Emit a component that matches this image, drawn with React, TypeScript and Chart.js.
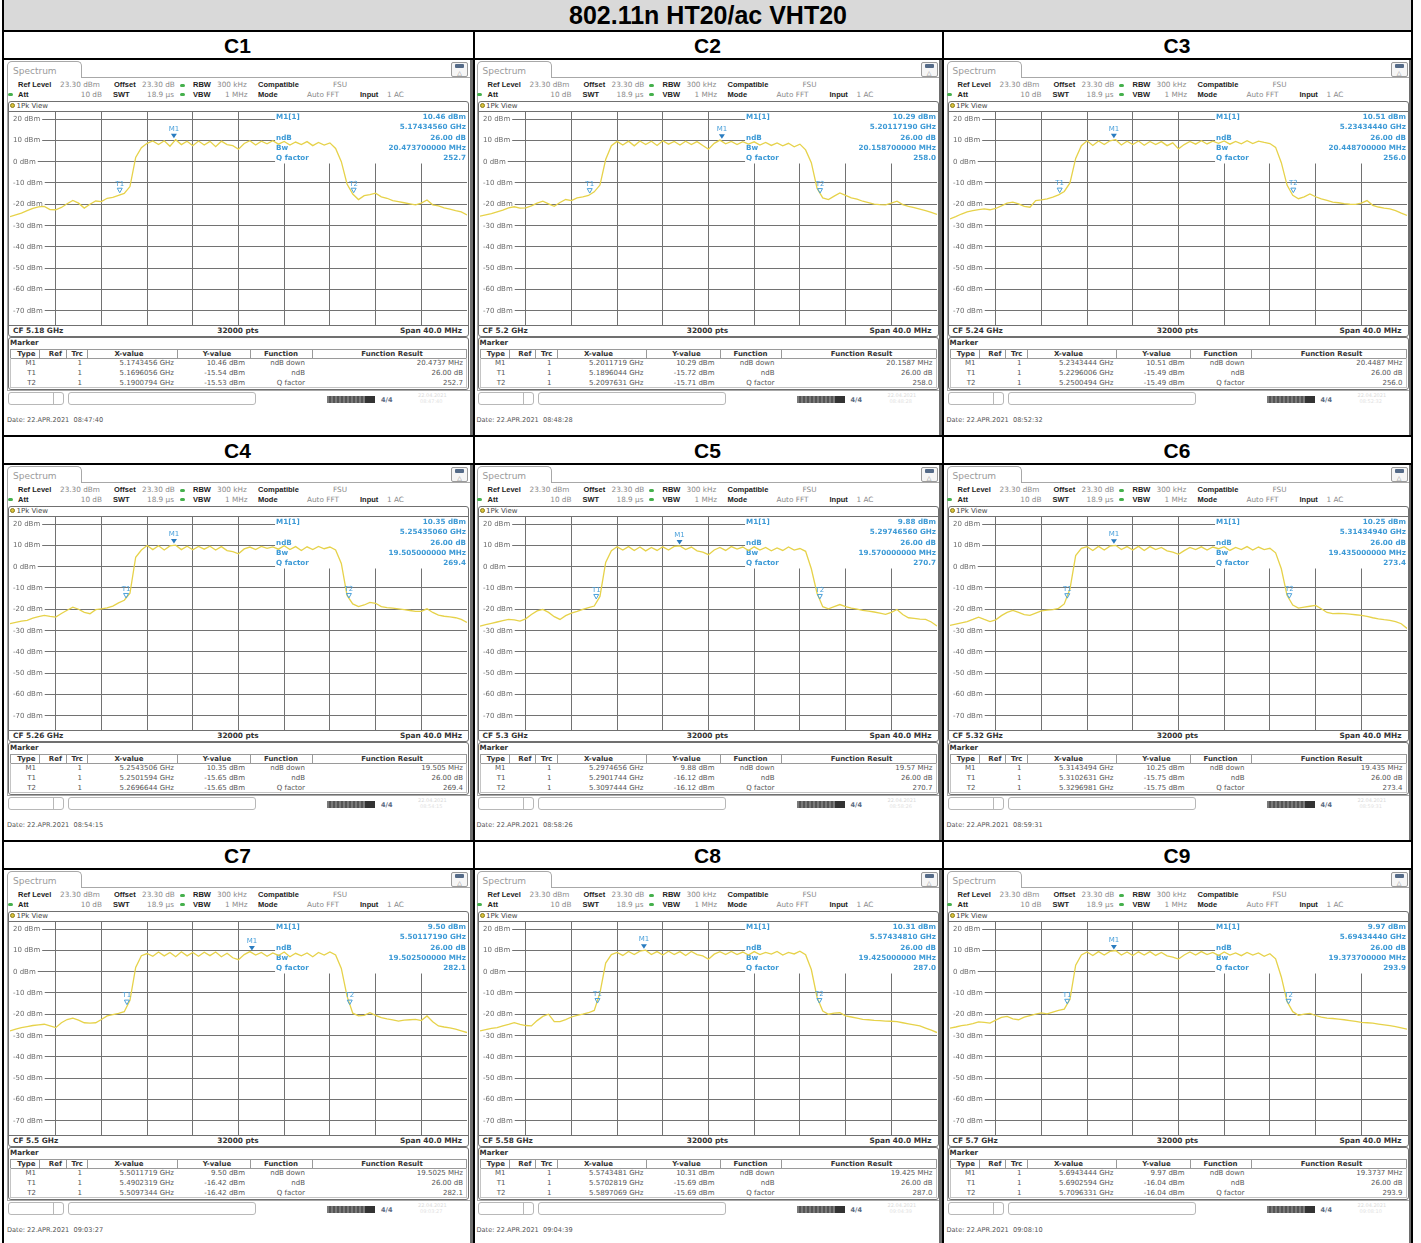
import React, { useEffect, useRef } from 'react';
import { Chart, registerables } from 'chart.js';

Chart.register(...registerables);

// ---------------- data ----------------
const PAGE_TITLE = '802.11n HT20/ac VHT20';
const CHANNEL_LABELS = ['C1', 'C2', 'C3', 'C4', 'C5', 'C6', 'C7', 'C8', 'C9'];
const centerFreqGHz = [5.18, 5.2, 5.24, 5.26, 5.3, 5.32, 5.5, 5.58, 5.7];
const captureTime = ['08:47:40', '08:48:28', '08:52:32', '08:54:15', '08:58:26', '08:59:31', '09:03:27', '09:04:39', '09:08:10'];

const m1FreqGHz = [5.1743456, 5.2011719, 5.2343444, 5.2543506, 5.2974656, 5.3143494, 5.5011719, 5.5743481, 5.6943444];
const m1LevelDbm = [10.46, 10.29, 10.51, 10.35, 9.88, 10.25, 9.5, 10.31, 9.97];
const t1FreqGHz = [5.1696056, 5.1896044, 5.2296006, 5.2501594, 5.2901744, 5.3102631, 5.4902319, 5.5702819, 5.6902594];
const t1LevelDbm = [-15.54, -15.72, -15.49, -15.65, -16.12, -15.75, -16.42, -15.69, -16.04];
const t2FreqGHz = [5.1900794, 5.2097631, 5.2500494, 5.2696644, 5.3097444, 5.3296981, 5.5097344, 5.5897069, 5.7096331];
const t2LevelDbm = [-15.53, -15.71, -15.49, -15.65, -16.12, -15.75, -16.42, -15.69, -16.04];
const bwMHz = [20.4737, 20.1587, 20.4487, 19.505, 19.57, 19.435, 19.5025, 19.425, 19.3737];
const qFactor = [252.7, 258.0, 256.0, 269.4, 270.7, 273.4, 282.1, 287.0, 293.9];
const NDB = '26.00 dB';

const X_GRID_MHZ = [-16, -12, -8, -4, 0, 4, 8, 12, 16];
const Y_GRID_DBM = [20, 10, 0, -10, -20, -30, -40, -50, -60, -70];
const X_MIN = -20;
const X_MAX = 20;
const REF_LEVEL = 23.3;
const BOTTOM_LEVEL = -76.7;
const INFO_LEFT_MHZ = 3.2;

const FREQ_OFFSETS_MHZ = [
  -20, -19.5, -19, -18.5, -18, -17.5, -17, -16.5, -16, -15.5,
  -15, -14.5, -14, -13.5, -13, -12.5, -12, -11.5, -11, -10.5,
  -10, -9.5, -9, -8.5, -8, -7.5, -7, -6.5, -6, -5.5,
  -5, -4.5, -4, -3.5, -3, -2.5, -2, -1.5, -1, -0.5,
  0, 0.5, 1, 1.5, 2, 2.5, 3, 3.5, 4, 4.5,
  5, 5.5, 6, 6.5, 7, 7.5, 8, 8.5, 9, 9.5,
  10, 10.5, 11, 11.5, 12, 12.5, 13, 13.5, 14, 14.5,
  15, 15.5, 16, 16.5, 17, 17.5, 18, 18.5, 19, 19.5,
  20,
];

const levelC1 = [
  -25.8, -25.0, -24.2, -23.0, -22.0, -21.2, -21.0, -22.5, -22.6, -21.5,
  -19.8, -18.2, -19.5, -21.8, -20.0, -18.5, -18.8, -17.2, -16.8, -15.8,
  -14.9, -11.7, 2.0, 6.5, 8.6, 9.7, 8.0, 9.8, 7.2, 10.3,
  8.0, 9.6, 7.5, 9.7, 7.8, 9.5, 7.0, 9.6, 8.0, 7.5,
  5.8, 8.5, 9.8, 7.8, 9.6, 8.4, 9.8, 8.2, 9.5, 7.8,
  9.2, 8.0, 9.4, 7.5, 9.0, 7.8, 8.8, 6.2, 0.0, -10.5,
  -15.2, -17.8, -16.0, -15.5, -14.8, -16.5, -17.2, -18.3, -18.8, -19.3,
  -19.8, -20.3, -19.5, -18.0, -20.3, -20.8, -21.7, -22.3, -23.0, -23.6,
  -25.0,
];
const levelC2 = [
  -25.6, -25.0, -24.4, -23.6, -22.8, -21.7, -21.2, -21.8, -21.7, -20.8,
  -19.5, -18.6, -19.8, -21.0, -19.2, -17.8, -18.3, -17.0, -16.6, -15.9,
  -14.2, -11.0, 1.0, 7.5, 9.5, 7.8, 9.6, 7.4, 9.7, 8.0,
  9.6, 7.6, 9.8, 8.2, 9.5, 7.8, 9.6, 8.0, 9.4, 7.6,
  5.8, 8.6, 10.1, 8.4, 9.5, 8.0, 9.4, 8.2, 9.3, 7.8,
  9.0, 7.6, 8.8, 7.4, 8.6, 7.0, 8.2, 5.5, -0.5, -12.5,
  -17.0, -17.8, -16.2, -14.7, -15.8, -17.0, -17.6, -18.6, -19.2, -20.0,
  -20.2, -20.3, -19.5, -18.6, -20.2, -21.0, -21.6, -22.3, -23.0, -23.8,
  -24.8,
];
const levelC3 = [
  -26.9, -25.8, -24.6, -23.6, -23.0, -22.5, -22.2, -22.6, -22.0, -20.8,
  -19.5, -19.0, -19.8, -21.0, -21.4, -18.3, -18.0, -17.5, -16.7, -15.6,
  -14.0, -10.0, 1.5, 7.5, 9.8, 7.6, 9.7, 8.0, 9.8, 10.3,
  7.8, 9.6, 8.0, 9.7, 7.7, 9.5, 8.0, 9.4, 7.5, 8.8,
  6.0, 8.0, 9.5, 8.2, 9.8, 8.3, 9.6, 8.6, 9.7, 8.2,
  9.5, 8.4, 9.8, 8.5, 9.6, 9.0, 8.5, 6.7, -0.5, -11.0,
  -15.8, -17.4, -16.5, -15.2, -16.5, -17.5, -18.2, -19.0, -19.3, -19.7,
  -20.0, -20.1, -19.5, -18.3, -20.5, -21.3, -21.8, -22.2, -23.0, -24.2,
  -25.3,
];
const levelC4 = [
  -26.8, -26.2, -25.6, -25.2, -24.2, -23.5, -22.9, -23.4, -23.7, -22.0,
  -20.5, -19.0, -20.0, -21.5, -22.1, -20.2, -19.8, -19.4, -18.5, -17.0,
  -15.8, -12.5, 4.4, 7.8, 9.9, 8.0, 9.8, 7.8, 9.7, 10.1,
  8.0, 9.6, 7.9, 9.5, 8.2, 9.6, 7.8, 9.4, 7.5, 7.0,
  6.0, 8.3, 9.2, 8.0, 9.5, 8.6, 9.3, 8.2, 9.8, 8.0,
  9.4, 7.6, 9.3, 8.0, 9.5, 8.4, 9.2, 7.8, 1.5, -13.5,
  -17.5, -18.8, -18.0, -16.8, -17.2, -18.8, -19.2, -19.5, -19.8, -20.2,
  -20.6, -21.0, -21.0, -19.8, -21.5, -22.8, -23.3, -23.6, -24.0, -24.8,
  -26.2,
];
const levelC5 = [
  -27.9, -27.2, -26.6, -26.0, -25.4, -24.8, -25.0, -25.6, -24.5, -22.5,
  -20.8, -20.1, -21.5, -23.5, -24.8, -23.0, -21.8, -21.0, -20.1, -19.3,
  -18.5, -14.0, 2.0, 7.5, 9.3, 7.8, 9.4, 7.6, 9.2, 7.4,
  9.0, 7.6, 9.3, 7.8, 9.5, 9.7, 8.0, 9.2, 7.4, 6.8,
  5.6, 7.8, 9.0, 7.6, 9.4, 8.2, 9.2, 7.6, 9.3, 7.8,
  9.0, 7.4, 8.8, 7.6, 9.2, 7.8, 8.5, 7.2, -1.0, -12.5,
  -18.8, -19.8, -18.8, -17.8, -18.8, -19.5, -20.0, -20.5, -20.9, -21.3,
  -21.8, -22.4, -21.5, -20.1, -22.5, -24.0, -24.3, -24.6, -24.8, -26.0,
  -27.9,
];
const levelC6 = [
  -27.6, -27.0, -26.4, -25.8, -24.8, -23.7, -24.8, -25.8, -25.0, -23.0,
  -21.5, -20.6, -21.5, -22.5, -22.9, -21.8, -20.8, -20.4, -20.2, -19.6,
  -17.5, -10.5, 5.2, 8.6, 9.4, 7.6, 9.5, 7.8, 9.6, 10.0,
  8.0, 9.4, 7.8, 9.5, 7.6, 9.4, 8.0, 9.0, 7.4, 6.8,
  5.8, 7.5, 9.0, 8.0, 9.3, 7.8, 9.2, 8.4, 9.4, 7.6,
  9.0, 8.0, 9.4, 7.8, 9.2, 8.0, 8.6, 6.5, -1.0, -13.5,
  -18.0, -19.5, -19.0, -18.6, -18.2, -19.8, -21.5, -22.1, -22.0, -22.1,
  -22.3, -22.6, -22.9, -23.4, -24.0, -24.5, -24.9, -25.2, -25.8, -26.8,
  -29.0,
];
const levelC7 = [
  -27.8, -27.0, -26.3, -25.8, -25.3, -25.0, -24.7, -25.5, -26.3, -24.0,
  -22.5, -21.8, -22.8, -24.0, -24.2, -24.0, -22.5, -20.8, -20.2, -19.6,
  -18.8, -13.5, 2.0, 7.5, 8.5, 7.2, 9.2, 7.4, 9.0, 7.0,
  9.3, 7.4, 9.0, 7.2, 9.1, 7.5, 9.2, 7.0, 8.6, 6.5,
  5.6, 8.0, 9.4, 7.8, 9.0, 7.2, 8.8, 7.6, 9.2, 7.0,
  8.6, 7.4, 8.8, 7.0, 9.0, 7.8, 9.2, 7.8, 1.5, -11.5,
  -19.5, -20.8, -20.5, -19.3, -20.5, -21.6, -22.2, -22.7, -23.2, -22.8,
  -22.6, -22.4, -23.0, -20.8, -23.5, -25.5, -26.0, -26.4, -27.0, -27.8,
  -28.6,
];
const levelC8 = [
  -27.8, -27.2, -26.6, -26.3, -25.5, -24.8, -24.0, -24.8, -25.3, -25.5,
  -23.0, -21.0, -20.0, -23.5, -23.5, -22.5, -21.3, -20.5, -20.0, -19.3,
  -18.2, -10.0, 4.0, 8.0, 9.0, 7.6, 9.5, 8.0, 9.6, 10.1,
  8.0, 9.4, 7.8, 9.6, 8.0, 9.4, 7.6, 9.5, 8.0, 7.4,
  5.8, 8.2, 9.4, 8.0, 9.5, 8.0, 9.2, 7.8, 9.4, 8.0,
  9.0, 8.2, 9.5, 7.8, 9.0, 8.3, 9.6, 7.9, 1.0, -12.0,
  -18.5, -20.0, -19.5, -19.3, -20.8, -21.3, -21.8, -22.4, -22.6, -22.9,
  -23.0, -23.2, -23.3, -23.5, -24.0, -24.5, -25.0, -25.5, -26.5, -27.5,
  -28.6,
];
const levelC9 = [
  -26.5, -26.0, -25.4, -25.0, -24.4, -23.6, -23.8, -24.2, -22.8, -21.5,
  -21.0, -22.2, -22.6, -21.4, -20.6, -20.0, -19.4, -19.8, -19.0, -18.2,
  -17.6, -13.0, 3.0, 7.8, 9.2, 7.6, 9.4, 7.8, 9.5, 9.9,
  7.8, 9.2, 7.6, 9.3, 7.8, 9.4, 7.6, 9.0, 7.4, 6.8,
  5.9, 7.8, 9.2, 7.8, 9.4, 8.0, 9.0, 7.6, 9.2, 7.8,
  8.8, 7.5, 9.0, 7.8, 8.8, 7.2, 8.4, 6.0, -2.5, -14.0,
  -18.8, -20.5, -20.0, -19.6, -20.6, -21.4, -21.8, -22.0, -22.3, -22.6,
  -23.0, -23.4, -23.8, -24.0, -24.2, -24.6, -25.0, -25.4, -25.8, -26.4,
  -27.0,
];
const TRACES = [levelC1, levelC2, levelC3, levelC4, levelC5, levelC6, levelC7, levelC8, levelC9];

// ---------------- styles ----------------
const DV = "'DejaVu Sans', Verdana, sans-serif";
const AR = "'Liberation Sans', Arial, Helvetica, sans-serif";
const TRACE_COLOR = '#e6d24a';
const GRID_COLOR = '#727272';
const INFO_BLUE = '#3d9ad6';
const MARK_BLUE = '#4aa0da';
const FRAME = '#707070';

const ROW_TOP = [30, 435, 840];
const SCREEN_X = [4, 473.5, 943.5];
const COL_CENTER = [237.5, 707.5, 1177];
const V_LINES = [2, 473, 942, 1411];

type TxtProps = {
  x: number; y: number; s: string; size?: number; bold?: boolean;
  color?: string; align?: 'l' | 'r' | 'c'; fam?: string;
};
function Txt({ x, y, s, size = 7, bold = false, color = '#333', align = 'l', fam = DV }: TxtProps) {
  const tx = align === 'l' ? '0' : align === 'r' ? '-100%' : '-50%';
  return (
    <div
      style={{
        position: 'absolute', left: x, top: y, transform: `translate(${tx}, -50%)`,
        fontFamily: fam, fontSize: size, fontWeight: bold ? 700 : 400, color,
        whiteSpace: 'pre', lineHeight: 1,
      }}
    >
      {s}
    </div>
  );
}

function Box({ l, t, w, h, style }: { l: number; t: number; w: number; h: number; style?: React.CSSProperties }) {
  return <div style={{ position: 'absolute', left: l, top: t, width: w, height: h, boxSizing: 'border-box', ...style }} />;
}

function makeOverlay(i: number) {
  return {
    id: 'specOverlay',
    beforeDatasetsDraw(chart: any) {
      const { ctx, chartArea, scales } = chart;
      const { left, right, top } = chartArea;
      const xs = scales.x;
      const ys = scales.y;
      ctx.save();
      const infoLeft = xs.getPixelForValue(INFO_LEFT_MHZ);
      const y0 = Math.round(ys.getPixelForValue(0));
      ctx.fillStyle = '#ffffff';
      ctx.fillRect(infoLeft, top, right - infoLeft, y0 + 1.5 - top);

      ctx.font = `7px ${DV}`;
      ctx.textBaseline = 'middle';
      for (const v of Y_GRID_DBM) {
        const py = Math.round(ys.getPixelForValue(v)) + 0.5;
        const label = `${v} dBm`;
        const w = ctx.measureText(label).width;
        ctx.fillStyle = '#ffffff';
        ctx.fillRect(left, py - 4, w + 5, 8);
        ctx.fillStyle = '#6a6a6a';
        ctx.textAlign = 'left';
        ctx.fillText(label, left + 3, py);
      }

      const y20 = ys.getPixelForValue(20);
      const leftCol = ['M1[1]', '', 'ndB', 'Bw', 'Q factor'];
      const rightCol = [
        `${m1LevelDbm[i].toFixed(2)} dBm`,
        `${m1FreqGHz[i].toFixed(8)} GHz`,
        NDB,
        `${bwMHz[i].toFixed(9)} MHz`,
        qFactor[i].toFixed(1),
      ];
      ctx.font = `bold 7.2px ${DV}`;
      ctx.fillStyle = INFO_BLUE;
      leftCol.forEach((s, k) => {
        const yy = y20 - 1.5 + k * 10.1;
        ctx.textAlign = 'left';
        ctx.fillText(s, infoLeft + 1, yy);
        ctx.textAlign = 'right';
        ctx.fillText(rightCol[k], right - 1, yy);
      });
      ctx.restore();
    },
    afterDatasetsDraw(chart: any) {
      const { ctx, scales } = chart;
      const xs = scales.x;
      const ys = scales.y;
      const cf = centerFreqGHz[i];
      ctx.save();
      ctx.textAlign = 'center';
      ctx.textBaseline = 'middle';
      ctx.font = `7px ${DV}`;
      const mx = xs.getPixelForValue((m1FreqGHz[i] - cf) * 1000);
      const my = ys.getPixelForValue(m1LevelDbm[i]);
      ctx.fillStyle = '#2a7cc0';
      ctx.beginPath();
      ctx.moveTo(mx - 3, my - 5.5);
      ctx.lineTo(mx + 3, my - 5.5);
      ctx.lineTo(mx, my - 1);
      ctx.closePath();
      ctx.fill();
      ctx.fillStyle = MARK_BLUE;
      ctx.fillText('M1', mx, my - 10.5);
      const temps: [string, number, number][] = [
        ['T1', t1FreqGHz[i], t1LevelDbm[i]],
        ['T2', t2FreqGHz[i], t2LevelDbm[i]],
      ];
      ctx.strokeStyle = MARK_BLUE;
      ctx.lineWidth = 1;
      for (const [lab, f, l] of temps) {
        const tx = xs.getPixelForValue((f - cf) * 1000);
        const ty = ys.getPixelForValue(l);
        ctx.beginPath();
        ctx.moveTo(tx - 2.5, ty - 6.5);
        ctx.lineTo(tx + 2.5, ty - 6.5);
        ctx.lineTo(tx, ty - 2);
        ctx.closePath();
        ctx.stroke();
        ctx.fillStyle = MARK_BLUE;
        ctx.fillText(lab, tx, ty - 11);
      }
      ctx.restore();
    },
  };
}

function SpectrumChart({ i }: { i: number }) {
  const ref = useRef<HTMLCanvasElement>(null);
  useEffect(() => {
    if (!ref.current) return;
    const levels = TRACES[i];
    const points = FREQ_OFFSETS_MHZ.map((f, k) => ({ x: f, y: levels[k] }));
    const chart = new Chart(ref.current, {
      type: 'line',
      data: {
        datasets: [
          {
            data: points,
            borderColor: TRACE_COLOR,
            borderWidth: 1.3,
            pointRadius: 0,
            tension: 0,
            fill: false,
          },
        ],
      },
      options: {
        animation: false,
        responsive: false,
        maintainAspectRatio: false,
        events: [],
        layout: { padding: 0 },
        plugins: { legend: { display: false }, tooltip: { enabled: false } },
        scales: {
          x: {
            type: 'linear',
            position: 'bottom',
            min: X_MIN,
            max: X_MAX,
            ticks: { display: false },
            grid: { color: GRID_COLOR, lineWidth: 1, drawTicks: false },
            border: { display: false },
            afterBuildTicks: (s: any) => { s.ticks = X_GRID_MHZ.map((v) => ({ value: v })); },
            afterFit: (s: any) => { s.height = 0; },
          },
          y: {
            type: 'linear',
            position: 'left',
            min: BOTTOM_LEVEL,
            max: REF_LEVEL,
            ticks: { display: false },
            grid: { color: GRID_COLOR, lineWidth: 1, drawTicks: false },
            border: { display: false },
            afterBuildTicks: (s: any) => { s.ticks = Y_GRID_DBM.map((v) => ({ value: v })); },
            afterFit: (s: any) => { s.width = 0; },
          },
        },
      } as any,
      plugins: [makeOverlay(i)],
    });
    return () => chart.destroy();
  }, [i]);
  return (
    <canvas
      ref={ref}
      width={457}
      height={213}
      style={{ position: 'absolute', left: 6, top: 52, width: 457, height: 213 }}
    />
  );
}

function Panel({ i }: { i: number }) {
  const col = i % 3;
  const row = Math.floor(i / 3);
  const sx = SCREEN_X[col];
  const cy = ROW_TOP[row] + 30;
  const cf = centerFreqGHz[i];
  const lblC = '#222';
  const valC = '#8a8a8a';
  const rows: [string, string, string, string, string][] = [
    ['M1', `${m1FreqGHz[i].toFixed(7)} GHz`, `${m1LevelDbm[i].toFixed(2)} dBm`, 'ndB down', `${bwMHz[i]} MHz`],
    ['T1', `${t1FreqGHz[i].toFixed(7)} GHz`, `${t1LevelDbm[i].toFixed(2)} dBm`, 'ndB', NDB],
    ['T2', `${t2FreqGHz[i].toFixed(7)} GHz`, `${t2LevelDbm[i].toFixed(2)} dBm`, 'Q factor', qFactor[i].toFixed(1)],
  ];
  const sep = [35, 61.7, 83.3, 172.7, 246, 307.7];
  return (
    <div style={{ position: 'absolute', left: sx, top: cy, width: 470, height: 375, background: '#fff' }}>
      <Box l={3} t={17} w={464} h={314} style={{ border: '1px solid #a8a8a8' }} />
      <Box l={3} t={1} w={75} h={17} style={{ border: '1px solid #a8a8a8', borderBottom: 'none', borderRadius: '5px 5px 0 0', background: '#fff' }} />
      <Txt x={9} y={10.5} s="Spectrum" size={9} color="#9a9a9a" />
      <Box l={447} t={2} w={17} h={15} style={{ border: '1px solid #9a9a9a', borderRadius: 2, background: '#f6f6f6' }} />
      <Box l={451} t={4} w={9} h={4} style={{ background: '#556b88', borderRadius: 1 }} />
      <Txt x={455.5} y={12.5} s="△" size={6} color="#777" align="c" />
      <Txt x={14} y={25} s="Ref Level" size={7.5} bold color={lblC} fam={AR} />
      <Txt x={56} y={25} s="23.30 dBm" size={7.3} color={valC} />
      <Txt x={110} y={25} s="Offset" size={7.5} bold color={lblC} fam={AR} />
      <Txt x={138} y={25} s="23.30 dB" size={7.3} color={valC} />
      <Box l={175.5} t={23.5} w={5} h={3} style={{ background: '#45b04c', borderRadius: 2 }} />
      <Txt x={189} y={25} s="RBW" size={7.5} bold color={lblC} fam={AR} />
      <Txt x={213} y={25} s="300 kHz" size={7.3} color={valC} />
      <Txt x={254} y={25} s="Compatible" size={7.5} bold color={lblC} fam={AR} />
      <Txt x={329} y={25} s="FSU" size={7.3} color={valC} />
      <Box l={3.5} t={33} w={5} h={3} style={{ background: '#45b04c', borderRadius: 2 }} />
      <Txt x={14} y={34.5} s="Att" size={7.5} bold color={lblC} fam={AR} />
      <Txt x={98} y={34.5} s="10 dB" size={7.3} color={valC} align="r" />
      <Txt x={109} y={34.5} s="SWT" size={7.5} bold color={lblC} fam={AR} />
      <Txt x={143} y={34.5} s="18.9 µs" size={7.3} color={valC} />
      <Box l={175.5} t={33} w={5} h={3} style={{ background: '#45b04c', borderRadius: 2 }} />
      <Txt x={189} y={34.5} s="VBW" size={7.5} bold color={lblC} fam={AR} />
      <Txt x={221} y={34.5} s="1 MHz" size={7.3} color={valC} />
      <Txt x={254} y={34.5} s="Mode" size={7.5} bold color={lblC} fam={AR} />
      <Txt x={303} y={34.5} s="Auto FFT" size={7.3} color={valC} />
      <Txt x={356} y={34.5} s="Input" size={7.5} bold color={lblC} fam={AR} />
      <Txt x={383} y={34.5} s="1 AC" size={7.3} color={valC} />
      <Box l={4} t={41} w={461} h={236} style={{ border: `1px solid ${FRAME}`, borderRadius: 3 }} />
      <Box l={6} t={43} w={5} h={5} style={{ background: '#d9c23a', border: '1px solid #8a7b1c', borderRadius: '50%' }} />
      <Txt x={12.5} y={45.5} s="1Pk View" size={7} color="#444" />
      <Box l={4} t={51} w={461} h={1} style={{ background: FRAME }} />
      <SpectrumChart i={i} />
      <Box l={4} t={265} w={461} h={1} style={{ background: FRAME }} />
      <Txt x={9} y={270.7} s={`CF ${cf} GHz`} size={7.4} bold color="#333" />
      <Txt x={234} y={270.7} s="32000 pts" size={7.4} bold color="#333" align="c" />
      <Txt x={458} y={270.7} s="Span 40.0 MHz" size={7.4} bold color="#333" align="r" />
      <Box l={4} t={277} w={461} h={53} style={{ border: `1px solid ${FRAME}`, borderRadius: 3 }} />
      <Txt x={6} y={282.7} s="Marker" size={7.2} bold color="#333" />
      <Box l={6} t={288.5} w={457} h={10} style={{ border: '1px solid #9a9a9a' }} />
      {sep.map((sx2, k) => (
        <Box key={k} l={sx2} t={288.5} w={1} h={10} style={{ background: '#9a9a9a' }} />
      ))}
      <Txt x={31.5} y={293.5} s="Type" size={7} bold color="#333" align="r" />
      <Txt x={58} y={293.5} s="Ref" size={7} bold color="#333" align="r" />
      <Txt x={79} y={293.5} s="Trc" size={7} bold color="#333" align="r" />
      <Txt x={125} y={293.5} s="X-value" size={7} bold color="#333" align="c" />
      <Txt x={213} y={293.5} s="Y-value" size={7} bold color="#333" align="c" />
      <Txt x={277} y={293.5} s="Function" size={7} bold color="#333" align="c" />
      <Txt x={388} y={293.5} s="Function Result" size={7} bold color="#333" align="c" />
      <Box l={6} t={298} w={457} h={30} style={{ border: '1px solid #c4c4c4', borderTop: 'none' }} />
      {rows.map((r, k) => {
        const yy = 303.3 + k * 10;
        return (
          <React.Fragment key={k}>
            <Txt x={32} y={yy} s={r[0]} size={7} color="#555" align="r" />
            <Txt x={78} y={yy} s="1" size={7} color="#555" align="r" />
            <Txt x={170} y={yy} s={r[1]} size={7} color="#555" align="r" />
            <Txt x={241} y={yy} s={r[2]} size={7} color="#555" align="r" />
            <Txt x={301} y={yy} s={r[3]} size={7} color="#555" align="r" />
            <Txt x={459} y={yy} s={r[4]} size={7} color="#555" align="r" />
          </React.Fragment>
        );
      })}
      <Box l={4} t={332} w={56} h={13} style={{ border: '1px solid #b8b8b8', borderRadius: 3 }} />
      <Box l={49} t={332} w={1} h={13} style={{ background: '#b8b8b8' }} />
      <Box l={64} t={332} w={188} h={13} style={{ border: '1px solid #b8b8b8', borderRadius: 3 }} />
      <Box l={323} t={336} w={48} h={7} style={{ background: 'repeating-linear-gradient(90deg, #7a7a7a 0px, #7a7a7a 2px, #555 2px, #555 4px)' }} />
      <Box l={361} t={336} w={10} h={7} style={{ background: '#333' }} />
      <Txt x={377} y={339.5} s="4/4" size={6.5} bold color="#5a6a82" />
      <Txt x={414} y={335} s="22.04.2021" size={5} color="#dadada" />
      <Txt x={416} y={341} s={captureTime[i]} size={5} color="#e2e2e2" />
      <Txt x={3} y={360} s={`Date: 22.APR.2021  ${captureTime[i]}`} size={6.6} color="#555" />
      <Box l={465.5} t={0} w={3.5} h={375} style={{ background: '#6e6e6e' }} />
    </div>
  );
}

export default function App() {
  return (
    <div style={{ position: 'absolute', left: 0, top: 0, width: 1421, height: 1243, overflow: 'hidden', background: '#fff' }}>
      <Box l={2} t={0} w={1411} h={30} style={{ background: '#d9d9d9' }} />
      <Txt x={708} y={14.5} s={PAGE_TITLE} size={25} bold color="#000" align="c" fam={AR} />
      {CHANNEL_LABELS.map((c, i) => (
        <Panel key={c} i={i} />
      ))}
      {CHANNEL_LABELS.map((c, i) => (
        <Txt key={'h' + c} x={COL_CENTER[i % 3]} y={ROW_TOP[Math.floor(i / 3)] + 14.5} s={c} size={21} bold color="#000" align="c" fam={AR} />
      ))}
      {ROW_TOP.map((t, r) => (
        <React.Fragment key={'r' + r}>
          <Box l={2} t={t} w={1411} h={2} style={{ background: '#000' }} />
          <Box l={2} t={t + 28} w={1411} h={2} style={{ background: '#000' }} />
        </React.Fragment>
      ))}
      {V_LINES.map((x, k) => (
        <Box key={'v' + k} l={x} t={k === 0 || k === 3 ? 0 : 30} w={2} h={1243} style={{ background: '#000' }} />
      ))}
    </div>
  );
}
